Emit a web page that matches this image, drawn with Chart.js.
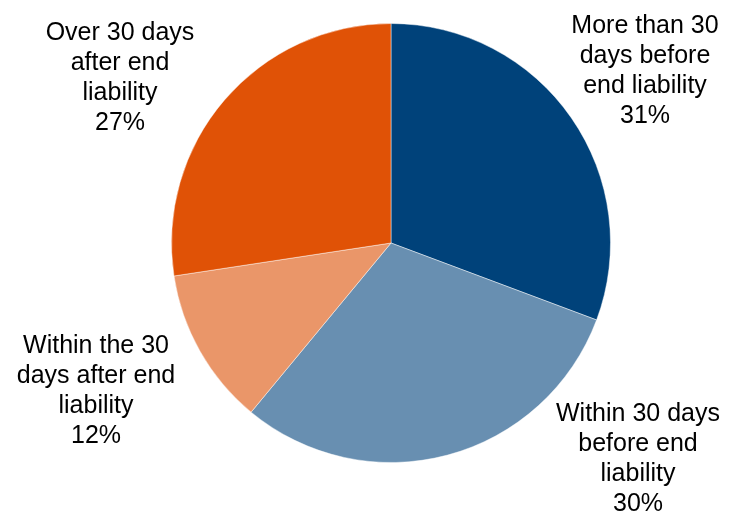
<!DOCTYPE html>
<html>
<head>
<meta charset="utf-8">
<script src="https://cdn.jsdelivr.net/npm/chart.js@4/dist/chart.umd.min.js"></script>
<style>
  html, body { margin: 0; padding: 0; background: #fff; }
  #wrap { width: 731px; height: 515px; position: relative; }
</style>
</head>
<body>
<div id="wrap"><canvas id="pieChart"></canvas></div>
<script>
// Categories, as they appear in the labels (one line per entry)
const categories = [
  ['More than 30', 'days before', 'end liability'],
  ['Within 30 days', 'before end', 'liability'],
  ['Within the 30', 'days after end', 'liability'],
  ['Over 30 days', 'after end', 'liability']
];
// Share of cases (%)
const shares = [30.7, 30.3, 11.6, 27.4];
const sliceColors = ['#00427A', '#688FB1', '#EA9669', '#E05206'];

// Label anchors: offset from pie centre to the first text baseline (px)
const labelOffsets = [[254, -210], [247, 178], [-295, 110], [-271, -203]];

const outsideLabels = {
  id: 'outsideLabels',
  afterDatasetsDraw(chart) {
    const ctx = chart.ctx;
    const meta = chart.getDatasetMeta(0);
    const total = shares.reduce((a, b) => a + b, 0);
    ctx.save();
    ctx.font = '25px "Liberation Sans", Arial, sans-serif';
    ctx.fillStyle = '#000';
    ctx.textAlign = 'center';
    ctx.textBaseline = 'alphabetic';
    meta.data.forEach((arc, i) => {
      const lines = categories[i].concat([Math.round(shares[i] / total * 100) + '%']);
      const x = arc.x + labelOffsets[i][0];
      let y = arc.y + labelOffsets[i][1];
      lines.forEach(line => {
        ctx.fillText(line, x, y);
        y += 30;
      });
    });
    ctx.restore();
  }
};

new Chart(document.getElementById('pieChart').getContext('2d'), {
  type: 'pie',
  data: {
    labels: categories.map(c => c.join(' ')),
    datasets: [{
      data: shares,
      backgroundColor: sliceColors,
      borderColor: 'rgba(255,255,255,0.45)',
      borderWidth: 1
    }]
  },
  options: {
    responsive: true,
    maintainAspectRatio: false,
    animation: false,
    layout: { padding: { left: 171, right: 120, top: 23, bottom: 52 } },
    plugins: {
      legend: { display: false },
      tooltip: { enabled: false }
    }
  },
  plugins: [outsideLabels]
});
</script>
</body>
</html>
